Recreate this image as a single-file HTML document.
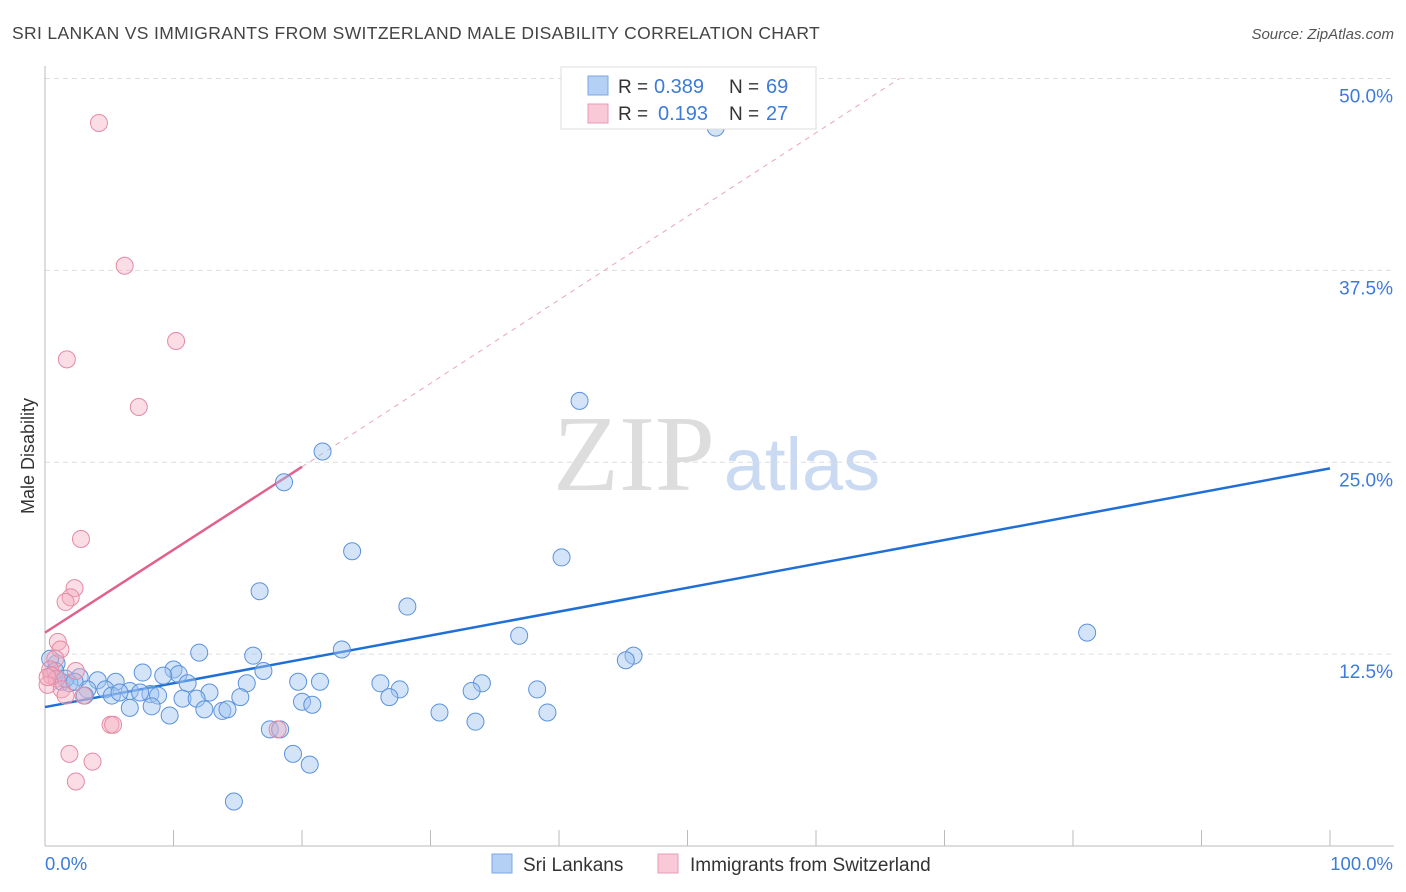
<!DOCTYPE html>
<html><head><meta charset="utf-8"><style>
body{margin:0;background:#fff;font-family:"Liberation Sans",sans-serif}
svg{display:block}
</style></head><body>
<svg id="chart" width="1406" height="892">
<text x="12" y="39" font-size="17.5" fill="#444" letter-spacing="0.35">SRI LANKAN VS IMMIGRANTS FROM SWITZERLAND MALE DISABILITY CORRELATION CHART</text>
<text x="1394" y="39" font-size="15" fill="#555" font-style="italic" text-anchor="end">Source: ZipAtlas.com</text>
<text transform="translate(34,456) rotate(-90)" font-size="18" fill="#333" text-anchor="middle">Male Disability</text>
<g>
<text x="634" y="490" font-family="Liberation Serif,serif" font-size="108" fill="#ddd" text-anchor="middle">ZIP</text>
<text x="802" y="490" font-size="74" fill="#c9daf2" text-anchor="middle">atlas</text>
</g>
<g id="grid"></g><g id="axes"></g><g id="lines"></g><g id="pts"></g>
<g>
<rect x="561" y="67" width="255" height="62" fill="#fff" stroke="#ddd"/>
<rect x="588" y="76" width="20" height="19" fill="#b4d0f5" stroke="#7aa7e3"/>
<rect x="588" y="104" width="20" height="19" fill="#f9c9d7" stroke="#ea9bb4"/>
<text x="618" y="93" font-size="19" fill="#333">R =</text>
<text x="654" y="93" font-size="20" fill="#3d7bd9">0.389</text>
<text x="729" y="93" font-size="19" fill="#333">N =</text>
<text x="766" y="93" font-size="20" fill="#3d7bd9">69</text>
<text x="618" y="120" font-size="19" fill="#333">R =</text>
<text x="658" y="120" font-size="20" fill="#3d7bd9">0.193</text>
<text x="729" y="120" font-size="19" fill="#333">N =</text>
<text x="766" y="120" font-size="20" fill="#3d7bd9">27</text>
</g>
<g>
<rect x="492" y="854" width="20" height="19" fill="#b4d0f5" stroke="#7aa7e3"/>
<text x="523" y="871" font-size="19" fill="#333">Sri Lankans</text>
<rect x="658" y="854" width="20" height="19" fill="#f9c9d7" stroke="#ea9bb4"/>
<text x="690" y="871" font-size="19" fill="#333">Immigrants from Switzerland</text>
</g>
<text x="45" y="870" font-size="18.5" fill="#3d7bd9">0.0%</text>
<text x="1393" y="870" font-size="18.5" fill="#3d7bd9" text-anchor="end">100.0%</text>
</svg>
<script>
const yTicks=[12.5,25,37.5,50];
const yTickLabels=["12.5%","25.0%","37.5%","50.0%"];
const blueX=[52.2,41.6,21.6,18.6,23.9,40.2,16.7,28.2,81.1,36.9,23.1,45.8,45.2,12.0,16.2,0.9,7.6,10.0,17.0,10.4,9.2,2.7,5.5,4.1,11.1,19.7,21.4,26.1,27.6,34.0,33.2,38.3,1.3,1.9,3.3,4.7,6.6,8.2,7.4,8.8,10.7,12.8,15.7,11.8,15.2,20.0,20.8,26.8,3.1,5.2,6.6,8.3,12.4,13.8,14.2,9.7,30.7,39.1,33.5,17.5,18.3,19.3,20.6,14.7,0.4,0.8,1.6,2.3,5.8];
const blueY=[46.8,29.0,25.7,23.7,19.2,18.8,16.6,15.6,13.9,13.7,12.8,12.4,12.1,12.6,12.4,11.9,11.3,11.5,11.4,11.2,11.1,11.0,10.7,10.8,10.6,10.7,10.7,10.6,10.2,10.6,10.1,10.2,10.7,10.6,10.2,10.2,10.1,9.9,10.0,9.8,9.6,10.0,10.6,9.6,9.7,9.4,9.2,9.7,9.8,9.8,9.0,9.1,8.9,8.8,8.9,8.5,8.7,8.7,8.1,7.6,7.6,6.0,5.3,2.9,12.2,11.4,10.9,10.7,10.0];
const pinkX=[4.2,6.2,1.7,10.2,7.3,2.8,2.3,2.0,1.6,1.0,1.2,0.8,0.4,0.5,0.9,0.2,1.3,2.4,1.6,3.0,5.1,5.3,1.9,3.7,2.4,18.1,0.2];
const pinkY=[47.1,37.8,31.7,32.9,28.6,20.0,16.8,16.2,15.9,13.3,12.8,12.2,11.5,11.1,10.9,10.5,10.2,11.4,9.8,9.8,7.9,7.9,6.0,5.5,4.2,7.6,11.0];
const blueLine=[[0,9.05],[100,24.6]];
const pinkLine=[[0,13.9],[20,24.7]];
const pinkDash=[[20,24.7],[66.5,50.0]];
const X=v=>45+v*12.85, Y=v=>846-v*15.35;
const NS="http://www.w3.org/2000/svg";
function mk(tag,attrs,parent){const e=document.createElementNS(NS,tag);for(const k in attrs)e.setAttribute(k,attrs[k]);document.getElementById(parent).appendChild(e);return e;}
yTicks.forEach((t,i)=>{
 const g=mk('line',{x1:45,x2:1394,y1:Y(t),y2:Y(t),stroke:'#ddd','stroke-dasharray':'5,4'},'grid');
 
 
 const l=mk('text',{x:1393,y:Y(t)+24,'font-size':19,fill:'#3d7bd9','text-anchor':'end'},'grid');l.textContent=yTickLabels[i];
 
 
});
const ax=mk('line',{x1:45,x2:1394,y1:846,y2:846,stroke:'#bbb'},'axes');


const ay=mk('line',{x1:45,x2:45,y1:66,y2:846,stroke:'#bbb'},'axes');


for(let k=0;k<=10;k++){const t=mk('line',{x1:X(k*10),x2:X(k*10),y1:830,y2:846,stroke:'#bbb'},'axes');
 
 }
function line(p,stroke,w,dash,name){const a={x1:X(p[0][0]),y1:Y(p[0][1]),x2:X(p[1][0]),y2:Y(p[1][1]),stroke:stroke,'stroke-width':w};if(dash)a['stroke-dasharray']=dash;const e=mk('line',a,'lines');
 
 }
line(pinkDash,'#e8a5b8',1,'5,5','pink-trend-extension');
line(blueLine,'#1f6fd6',2.5,null,'blue-trend-line');
line(pinkLine,'#e0628c',2.5,null,'pink-trend-line');
blueX.forEach((x,i)=>{const c=mk('circle',{cx:X(x),cy:Y(blueY[i]),r:8.5,fill:'rgba(160,196,240,0.45)',stroke:'#5b92dc','stroke-width':1},'pts');
 
 });
pinkX.forEach((x,i)=>{const c=mk('circle',{cx:X(x),cy:Y(pinkY[i]),r:8.5,fill:'rgba(245,170,190,0.4)',stroke:'#e58aa5','stroke-width':1},'pts');
 
 });
</script>
</body></html>
